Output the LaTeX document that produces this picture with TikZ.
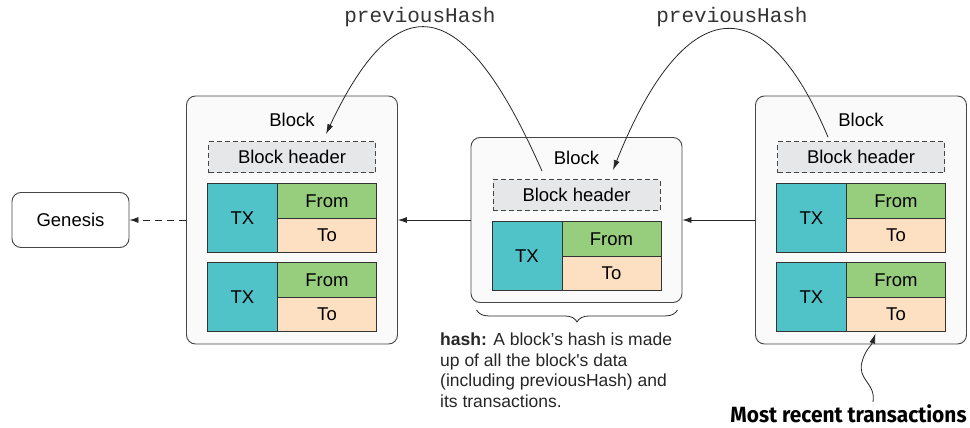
\documentclass[tikz,border=0pt]{standalone}
\usepackage{fontspec}
\setmainfont{Liberation Sans}
\setmonofont{Liberation Mono}
\newfontfamily\recentfont[FakeStretch=0.95]{Fira Sans}
\usetikzlibrary{positioning,calc,arrows.meta,decorations.pathreplacing}
\definecolor{txcyan}{RGB}{80,195,201}
\definecolor{fromgreen}{RGB}{150,206,125}
\definecolor{topeach}{RGB}{253,223,193}
\definecolor{headgray}{RGB}{230,231,232}
\definecolor{framegray}{RGB}{70,70,70}

\begin{document}
\begin{tikzpicture}[x=1pt, y=-1pt,
        blockframe/.style={draw=framegray, fill=black!2, rounded corners=9pt, line width=0.9pt, minimum width=211pt},
        blocklabel/.style={font=\fontsize{18.5}{22}\selectfont, inner sep=0pt},
        headerbox/.style={draw=framegray, dashed, dash pattern=on 5pt off 3pt, fill=headgray, line width=0.9pt, minimum width=167pt, minimum height=31pt, inner sep=0pt, font=\fontsize{18.5}{22}\selectfont},
        cellbox/.style={draw=black!80, line width=0.8pt, inner sep=0pt, outer sep=0pt, font=\fontsize{18.5}{22}\selectfont},
        txbox/.style={cellbox, fill=txcyan, minimum width=70pt, minimum height=69pt},
        frombox/.style={cellbox, fill=fromgreen, minimum width=99pt, minimum height=34.5pt},
        tobox/.style={cellbox, fill=topeach, minimum width=99pt, minimum height=34.5pt},
        genbox/.style={draw=framegray, fill=white, rounded corners=9pt, line width=0.9pt, minimum width=117pt, minimum height=55pt, font=\fontsize{18.5}{22}\selectfont},
        chainlink/.style={-{Latex[length=9pt,width=6pt]}, line width=0.8pt, draw=black!85},
        hashlink/.style={-{Latex[length=10pt,width=6pt]}, line width=0.8pt, draw=black!85},
        hashlabel/.style={font=\ttfamily\fontsize{21}{24}\selectfont, text=black!80},
        hashnote/.style={align=left, inner sep=0pt, font=\fontsize{17.5}{20.5}\selectfont, text=black!85},
        recentlabel/.style={inner sep=0pt, font=\recentfont\bfseries\fontsize{22}{26}\selectfont}]
    \useasboundingbox (0,0) rectangle (970,428);

    % the three blocks
    \node[blockframe, minimum height=248pt] (blkL) at (292,220) {};
    \node[blockframe, minimum height=165pt] (blkM) at (576.5,220) {};
    \node[blockframe, minimum height=248pt] (blkR) at (861,220) {};
    \node[genbox] (gen) at (70.5,220) {Genesis};

    % left block
    \node[blocklabel] (lblL) at ($(blkL.north)+(0,24)$) {Block};
    \node[headerbox] (hdrL) at ($(lblL)+(0,37.5)$) {Block header};
    \node[txbox, anchor=north east] (txL1) at ($(hdrL.south)+(-14.5,10.5)$) {TX};
    \node[frombox, anchor=north west] (fromL1) at (txL1.north east) {From};
    \node[tobox, below=0pt of fromL1] (toL1) {To};
    \node[txbox, below=10pt of txL1] (txL2) {TX};
    \node[frombox, anchor=north west] (fromL2) at (txL2.north east) {From};
    \node[tobox, below=0pt of fromL2] (toL2) {To};

    % middle block
    \node[blocklabel] (lblM) at ($(blkM.north)+(0,20.5)$) {Block};
    \node[headerbox] (hdrM) at ($(lblM)+(0,37.5)$) {Block header};
    \node[txbox, anchor=north east] (txM1) at ($(hdrM.south)+(-14.5,10.5)$) {TX};
    \node[frombox, anchor=north west] (fromM1) at (txM1.north east) {From};
    \node[tobox, below=0pt of fromM1] (toM1) {To};

    % right block
    \node[blocklabel] (lblR) at ($(blkR.north)+(0,24)$) {Block};
    \node[headerbox] (hdrR) at ($(lblR)+(0,37.5)$) {Block header};
    \node[txbox, anchor=north east] (txR1) at ($(hdrR.south)+(-14.5,10.5)$) {TX};
    \node[frombox, anchor=north west] (fromR1) at (txR1.north east) {From};
    \node[tobox, below=0pt of fromR1] (toR1) {To};
    \node[txbox, below=10pt of txR1] (txR2) {TX};
    \node[frombox, anchor=north west] (fromR2) at (txR2.north east) {From};
    \node[tobox, below=0pt of fromR2] (toR2) {To};

    % chain
    \draw[chainlink] (blkR.west) -- (blkM.east);
    \draw[chainlink] (blkM.west) -- (blkL.east);
    \draw[chainlink, dashed, dash pattern=on 7pt off 5pt] (blkL.west) -- (gen.east);

    % previousHash pointers
    \node[hashlabel] (prevL) at (420,17) {previousHash};
    \node[hashlabel] (prevR) at (732,17) {previousHash};
    \coordinate (srcM) at ($(hdrM.north)+(-34.5,-8)$);
    \coordinate (tipL) at ($(hdrL.north)+(34,-7)$);
    \coordinate (srcR) at ($(hdrR.north)+(-33,-4)$);
    \coordinate (tipM) at ($(hdrM.north)+(36.5,-9)$);
    \draw[hashlink] (srcM) .. controls +(-77,-175) and +(73,-155) .. (tipL);
    \draw[hashlink] (srcR) .. controls +(-65,-155) and +(70,-175) .. (tipM);

    % hash note
    \draw[decorate, decoration={brace, mirror, amplitude=12pt}, line width=0.8pt, draw=black!85]
        ($(blkM.south west)+(6,7)$) -- ($(blkM.south east)+(-5,7)$);
    \node[hashnote, anchor=north west] (note) at (440,333) {\textbf{hash:} A block’s hash is made\\up of all the block\textquotesingle s data\\(including previousHash) and\\its transactions.};

    % most recent
    \node[recentlabel, anchor=base] (recent) at (848.5,422) {Most recent transactions};
    \coordinate (waveS) at ($(recent.north)+(24.5,-2)$);
    \coordinate (waveM) at (862,362);
    \coordinate (waveT) at ($(toR2.south)+(-20.5,2)$);
    \draw[hashlink] (waveS) .. controls +(3,-19) and +(-5,18) .. (waveM) .. controls +(3,-12) and +(-4,12) .. (waveT);
\end{tikzpicture}
\end{document}
